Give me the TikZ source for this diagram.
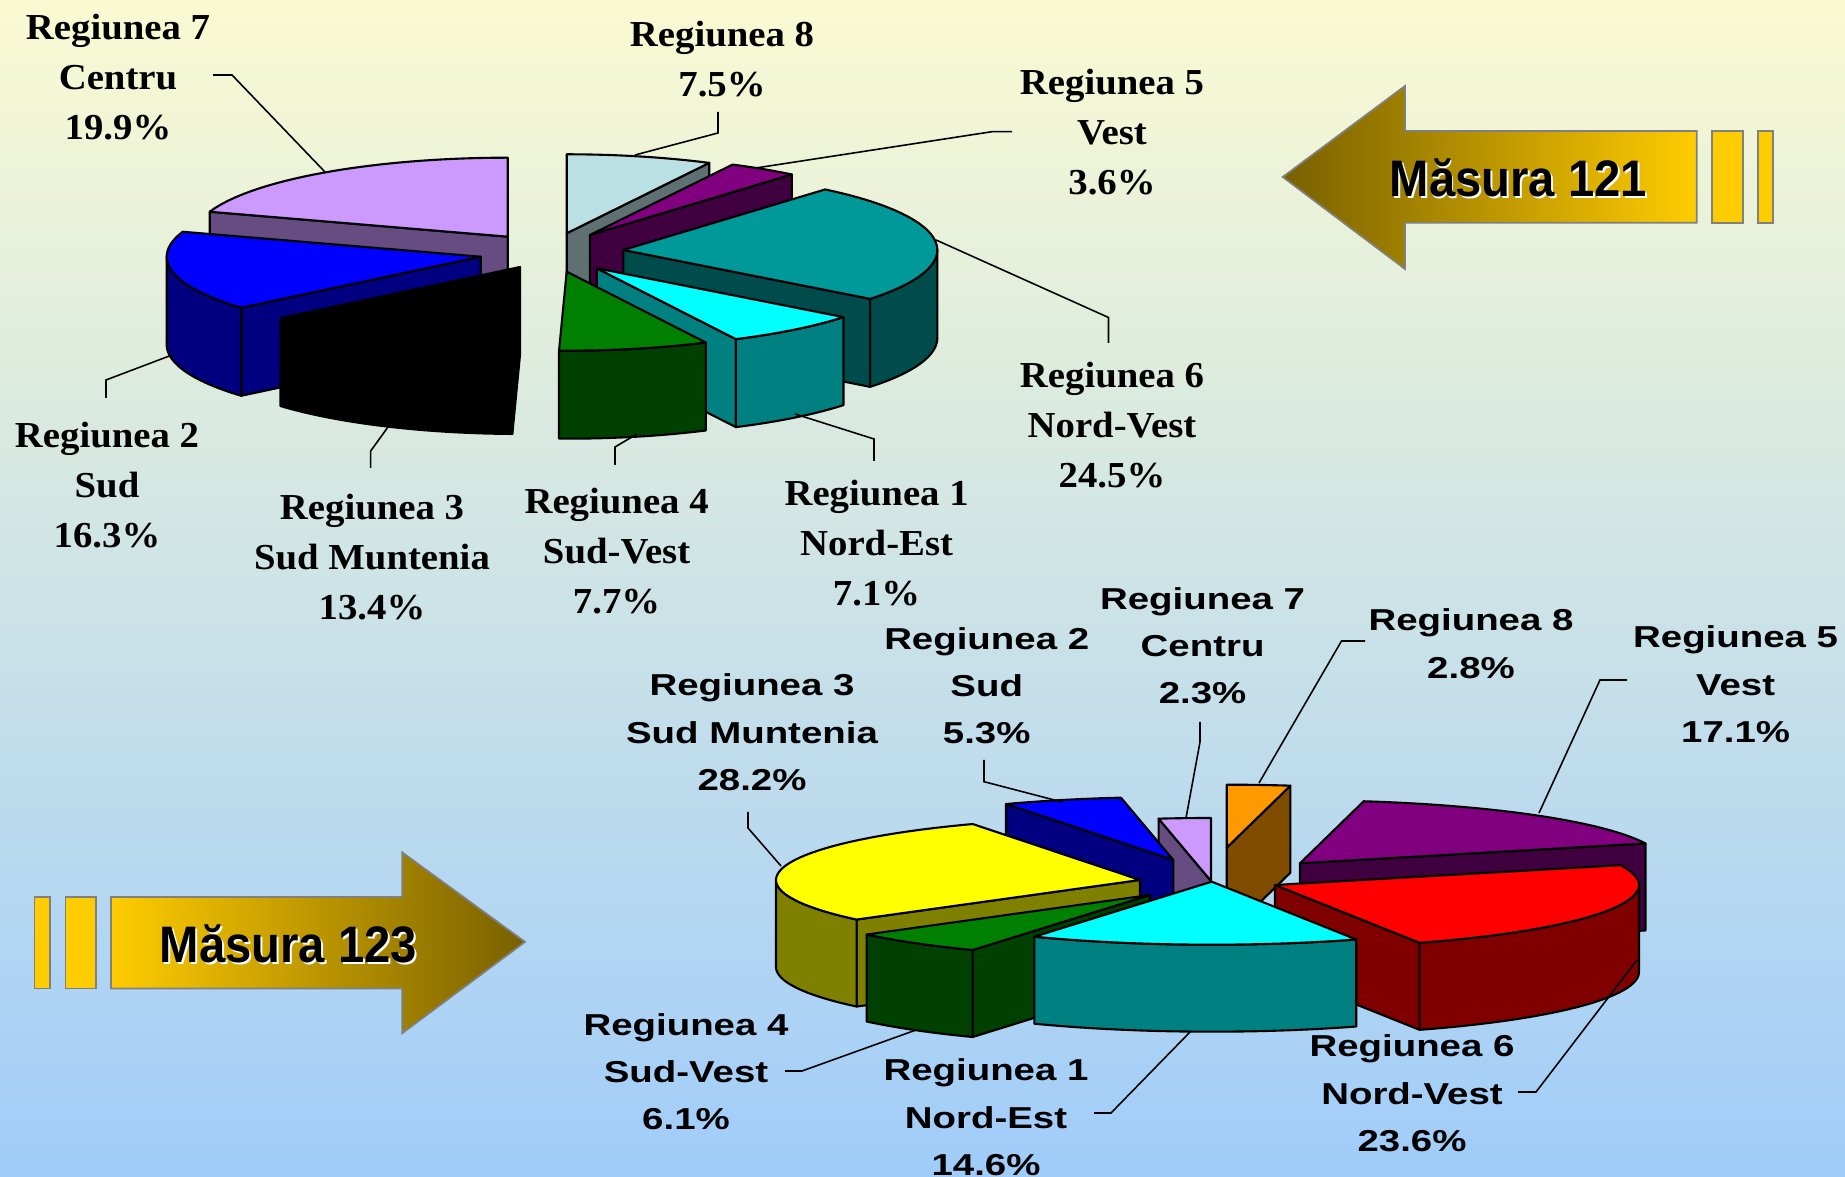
\documentclass[tikz,border=0pt]{standalone}
\usepackage{fontspec}
\newfontfamily\serlab{Liberation Serif}[FakeStretch=1.06]
\newfontfamily\sanlab{Liberation Sans}[FakeStretch=1.27]
\newfontfamily\arrfont{Liberation Sans}[FakeStretch=0.92]
\definecolor{bgtop}{RGB}{250,250,210}
\definecolor{bgbot}{RGB}{160,204,250}
\definecolor{arrdark}{RGB}{120,96,0}
\definecolor{arrgold}{RGB}{255,204,0}
\definecolor{arrgray}{RGB}{128,128,128}
\definecolor{cLbTop}{HTML}{BBE0E3}
\definecolor{cLbSide}{HTML}{5E7072}
\definecolor{cPur}{HTML}{800080}
\definecolor{cPurSide}{HTML}{400040}
\definecolor{cTeal}{HTML}{009999}
\definecolor{cTealSide}{HTML}{004C4C}
\definecolor{cCyan}{HTML}{00FFFF}
\definecolor{cCyanSide}{HTML}{008080}
\definecolor{cGreen}{HTML}{008000}
\definecolor{cGreenSide}{HTML}{004000}
\definecolor{cBlue}{HTML}{0000FF}
\definecolor{cNavy}{HTML}{000080}
\definecolor{cLav}{HTML}{CC99FF}
\definecolor{cLavSide}{HTML}{664C80}
\definecolor{cOrange}{HTML}{FF9900}
\definecolor{cOrangeSide}{HTML}{804C00}
\definecolor{cRed}{HTML}{FF0000}
\definecolor{cMaroon}{HTML}{800000}
\definecolor{cYellow}{HTML}{FFFF00}
\definecolor{cOlive}{HTML}{808000}
\newcommand\PieTop[5]{\filldraw[pieline,fill=#5] (#1,#2) -- plot[domain=#3:#4,samples=60] ({#1+\prx*sin(\x)},{#2-\pry*cos(\x)}) -- cycle;}
\newcommand\PieOuter[5]{\filldraw[pieline,fill=#5] plot[domain=#3:#4,samples=40] ({#1+\prx*sin(\x)},{#2-\pry*cos(\x)}) -- plot[domain=#4:#3,samples=40] ({#1+\prx*sin(\x)},{#2+\pdep-\pry*cos(\x)}) -- cycle;}
\newcommand\PieRad[4]{\filldraw[pieline,fill=#4] (#1,#2) -- ({#1+\prx*sin(#3)},{#2-\pry*cos(#3)}) -- ++(0,\pdep) -- ({#1},{#2+\pdep}) -- cycle;}
\tikzset{
  pieline/.style={draw=black,line width=0.6pt,line join=round},
  leader/.style={draw=black,line width=0.45pt},
  toplab/.style={font=\serlab\bfseries\fontsize{10.4}{14.2}\selectfont,align=center,anchor=base,inner sep=0pt},
  botlab/.style={font=\sanlab\bfseries\fontsize{8.6}{13.4}\selectfont,align=center,anchor=base,inner sep=0pt},
  arrtext/.style={font=\arrfont\bfseries\fontsize{14.6}{17}\selectfont,anchor=base,inner sep=0pt},
  arrbox/.style={draw=arrgray,line width=0.5pt},
}
\begin{document}
\begin{tikzpicture}[x=0.01cm,y=-0.01cm]
\useasboundingbox (0,0) rectangle (1845,1177);
\fill[top color=bgtop,bottom color=bgbot] (0,0) rectangle (1845,1177);

% ---------------- Masura 121 arrow
\draw[arrbox,left color=arrdark,right color=arrgold] (1282.7,177) -- (1405,86) -- (1405,131) -- (1696.7,131) -- (1696.7,222.7) -- (1405,222.7) -- (1405,269) -- cycle;
\filldraw[arrbox,fill=arrgold] (1711.7,131) rectangle (1742.7,222.7);
\filldraw[arrbox,fill=arrgold] (1757.7,131) rectangle (1772.7,222.7);
\node[arrtext,white] (m121s) at (1520.3,198.7) {Măsura 121};
\node[arrtext] (m121) at (1518.3,196.7) {Măsura 121};

% ---------------- Masura 123 arrow
\draw[arrbox,left color=arrgold,right color=arrdark] (110.9,897.1) -- (402.2,897.1) -- (402.2,852.4) -- (525,941.9) -- (402.2,1033.2) -- (402.2,988.4) -- (110.9,988.4) -- cycle;
\filldraw[arrbox,fill=arrgold] (34.4,897.1) rectangle (49.9,988.4);
\filldraw[arrbox,fill=arrgold] (65.4,897.1) rectangle (95.7,988.4);
\node[arrtext,white] (m123s) at (290.4,964.6) {Măsura 123};
\node[arrtext] (m123) at (288.4,962.6) {Măsura 123};

% ---------------- top pie (Masura 121)
\def\prx{314}\def\pry{79}\def\pdep{88}
% R8
\PieRad{566.7}{233.3}{27}{cLbSide}
\PieTop{566.7}{233.3}{0}{27}{cLbTop}
% R5
\PieRad{590}{235}{40}{cPurSide}
\PieTop{590}{235}{27}{40}{cPur}
% R7
\PieRad{507.7}{236.7}{288.4}{cLavSide}
\PieTop{507.7}{236.7}{288.4}{360}{cLav}
% R6
\PieRad{623.3}{250}{128.2}{cTealSide}
\PieOuter{623.3}{250}{90}{128.2}{cTealSide}
\PieTop{623.3}{250}{40}{128.2}{cTeal}
% R2
\PieRad{480.7}{256.7}{229.7}{cNavy}
\PieOuter{480.7}{256.7}{229.7}{270}{cNavy}
\PieTop{480.7}{256.7}{229.7}{288.4}{cBlue}
% R1
\PieRad{596.7}{268.3}{153.7}{cCyanSide}
\PieOuter{596.7}{268.3}{128.2}{153.7}{cCyanSide}
\PieTop{596.7}{268.3}{128.2}{153.7}{cCyan}
% R3
\PieRad{520}{267}{181.4}{black}
\PieOuter{520}{267}{181.4}{229.7}{black}
\PieTop{520}{267}{181.4}{229.7}{black}
% R4
\PieOuter{566.7}{271.7}{153.7}{181.4}{cGreenSide}
\PieTop{566.7}{271.7}{153.7}{181.4}{cGreen}

% top labels (anchor = baseline of last line)
\node[toplab] (t7) at (118,139.1) {Regiunea 7\\Centru\\19.9\%};
\node[toplab] (t8) at (722,96.9) {Regiunea 8\\7.5\%};
\node[toplab] (t5) at (1112,194.8) {Regiunea 5\\Vest\\3.6\%};
\node[toplab] (t6) at (1112,487.8) {Regiunea 6\\Nord-Vest\\24.5\%};
\node[toplab] (t1) at (876.6,605.8) {Regiunea 1\\Nord-Est\\7.1\%};
\node[toplab] (t4) at (616.6,613.8) {Regiunea 4\\Sud-Vest\\7.7\%};
\node[toplab] (t3) at (372,619.8) {Regiunea 3\\Sud Muntenia\\13.4\%};
\node[toplab] (t2) at (107,547.8) {Regiunea 2\\Sud\\16.3\%};

% top leaders
\coordinate (lt7a) at (213,75);   \coordinate (lt7b) at (232,75);   \coordinate (lt7c) at (325,172);
\coordinate (lt8a) at (718,112);  \coordinate (lt8b) at (718,133);  \coordinate (lt8c) at (635,155);
\coordinate (lt5a) at (1012,131.7); \coordinate (lt5b) at (992,131.7); \coordinate (lt5c) at (756,168);
\coordinate (lt6a) at (1108.5,343); \coordinate (lt6b) at (1108.5,317.5); \coordinate (lt6c) at (936,240);
\coordinate (lt1a) at (874,461);  \coordinate (lt1b) at (874,439);  \coordinate (lt1c) at (795,414);
\coordinate (lt4a) at (615,465);  \coordinate (lt4b) at (615,447);  \coordinate (lt4c) at (637,434);
\coordinate (lt3a) at (370.7,468); \coordinate (lt3b) at (370.7,451); \coordinate (lt3c) at (388,427);
\coordinate (lt2a) at (106,398);  \coordinate (lt2b) at (106,380);  \coordinate (lt2c) at (172,355);
\draw[leader] (lt7a) -- (lt7b) -- (lt7c);
\draw[leader] (lt8a) -- (lt8b) -- (lt8c);
\draw[leader] (lt5a) -- (lt5b) -- (lt5c);
\draw[leader] (lt6a) -- (lt6b) -- (lt6c);
\draw[leader] (lt1a) -- (lt1b) -- (lt1c);
\draw[leader] (lt4a) -- (lt4b) -- (lt4c);
\draw[leader] (lt3a) -- (lt3b) -- (lt3c);
\draw[leader] (lt2a) -- (lt2b) -- (lt2c);

% ---------------- bottom pie (Masura 123)
\def\prx{364}\def\pry{63}\def\pdep{87}
% R7
\PieRad{1211}{881}{351.72}{cLavSide}
\PieTop{1211}{881}{351.72}{360}{cLav}
% R8
\PieRad{1226.7}{847.7}{10.08}{cOrangeSide}
\PieTop{1226.7}{847.7}{0}{10.08}{cOrange}
% R2
\PieRad{1173.3}{860}{332.64}{cNavy}
\PieTop{1173.3}{860}{332.64}{351.72}{cBlue}
% R5
\PieRad{1300}{863.3}{71.64}{cPurSide}
\PieTop{1300}{863.3}{10.08}{71.64}{cPur}
% R3
\PieRad{1140}{880}{231.12}{cOlive}
\PieOuter{1140}{880}{231.12}{270}{cOlive}
\PieTop{1140}{880}{231.12}{332.64}{cYellow}
% R6
\PieRad{1275}{885}{156.6}{cMaroon}
\PieOuter{1275}{885}{90}{156.6}{cMaroon}
\PieTop{1275}{885}{71.64}{156.6}{cRed}
% R4
\PieRad{1150}{895}{209.16}{cGreenSide}
\PieOuter{1150}{895}{209.16}{231.12}{cGreenSide}
\PieTop{1150}{895}{209.16}{231.12}{cGreen}
% R1
\PieOuter{1211.7}{881.7}{156.6}{209.16}{cCyanSide}
\PieTop{1211.7}{881.7}{156.6}{209.16}{cCyan}

% bottom labels (anchor = baseline of last line)
\node[botlab] (b3) at (752,790.2) {Regiunea 3\\Sud Muntenia\\28.2\%};
\node[botlab] (b2) at (986.7,743.5) {Regiunea 2\\Sud\\5.3\%};
\node[botlab] (b7) at (1202.6,703.7) {Regiunea 7\\Centru\\2.3\%};
\node[botlab] (b8) at (1471,678.1) {Regiunea 8\\2.8\%};
\node[botlab] (b5) at (1735.6,742.2) {Regiunea 5\\Vest\\17.1\%};
\node[botlab] (b6) at (1412,1151.2) {Regiunea 6\\Nord-Vest\\23.6\%};
\node[botlab] (b1) at (986,1175.2) {Regiunea 1\\Nord-Est\\14.6\%};
\node[botlab] (b4) at (686,1129.7) {Regiunea 4\\Sud-Vest\\6.1\%};

% bottom leaders
\coordinate (lb3a) at (748,812);  \coordinate (lb3b) at (748,828);  \coordinate (lb3c) at (781,866);
\coordinate (lb2a) at (984,760);  \coordinate (lb2b) at (984,781.7); \coordinate (lb2c) at (1062,802);
\coordinate (lb7a) at (1200,722); \coordinate (lb7b) at (1200,742); \coordinate (lb7c) at (1186,818);
\coordinate (lb8a) at (1365,641); \coordinate (lb8b) at (1341.5,641); \coordinate (lb8c) at (1259,783);
\coordinate (lb5a) at (1627,680); \coordinate (lb5b) at (1600,680); \coordinate (lb5c) at (1539,813);
\coordinate (lb6a) at (1518,1092); \coordinate (lb6b) at (1536,1092); \coordinate (lb6c) at (1637,960);
\coordinate (lb1a) at (1094,1113); \coordinate (lb1b) at (1111,1113); \coordinate (lb1c) at (1191,1031);
\coordinate (lb4a) at (785,1071); \coordinate (lb4b) at (802,1071); \coordinate (lb4c) at (916,1030);
\draw[leader] (lb3a) -- (lb3b) -- (lb3c);
\draw[leader] (lb2a) -- (lb2b) -- (lb2c);
\draw[leader] (lb7a) -- (lb7b) -- (lb7c);
\draw[leader] (lb8a) -- (lb8b) -- (lb8c);
\draw[leader] (lb5a) -- (lb5b) -- (lb5c);
\draw[leader] (lb6a) -- (lb6b) -- (lb6c);
\draw[leader] (lb1a) -- (lb1b) -- (lb1c);
\draw[leader] (lb4a) -- (lb4b) -- (lb4c);
\end{tikzpicture}
\end{document}
